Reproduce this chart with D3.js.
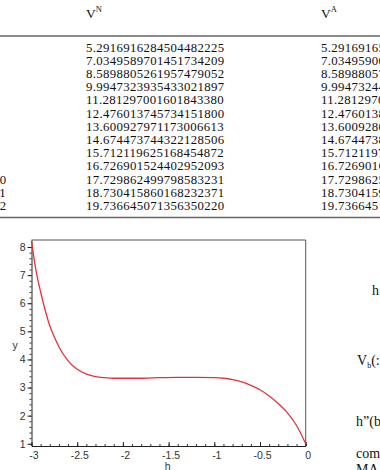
<!DOCTYPE html>
<html>
<head>
<meta charset="utf-8">
<script src="https://cdn.jsdelivr.net/npm/d3@7"></script>
<style>
  body { margin: 0; background: #fff; }
  svg { display: block; }
</style>
</head>
<body>
<svg id="viz"></svg>
<script>
// Global Variables
const width = 380;
const height = 470;
const svg = d3.select("#viz").attr("width", width).attr("height", height);

// Table data
const rowLabels = ["0", "1", "2", "3", "4", "5", "6", "7", "8", "9", "10", "11", "12"];
const vN = [
  "5.2916916284504482225", "7.0349589701451734209", "8.5898805261957479052",
  "9.9947323935433021897", "11.281297001601843380", "12.476013745734151800",
  "13.600927971173006613", "14.674473744322128506", "15.712119625168454872",
  "16.726901524402952093", "17.729862499798583231", "18.730415860168232371",
  "19.736645071356350220"
];
const vA = [
  "5.2916916560", "7.0349590081", "8.5898805723", "9.9947324476",
  "11.281297006", "12.476013812", "13.600928045", "14.674473823",
  "15.712119705", "16.726901612", "17.729862593", "18.730415924",
  "19.736645131"
];

// Curve data
const hValues = [-3.0, -2.95, -2.9, -2.85, -2.8, -2.75, -2.7, -2.6, -2.5, -2.4, -2.3, -2.2, -2.1,
  -2.0, -1.8, -1.6, -1.4, -1.2, -1.0, -0.9, -0.8, -0.7, -0.6, -0.5, -0.4, -0.3, -0.2, -0.1, 0.0];
const yValues = [8.22, 7.15, 6.4, 5.75, 5.2, 4.8, 4.45, 3.95, 3.65, 3.48, 3.39, 3.35, 3.33,
  3.33, 3.33, 3.35, 3.36, 3.36, 3.35, 3.33, 3.28, 3.2, 3.08, 2.92, 2.7, 2.43, 2.1, 1.65, 1.0];
const xTicks = [-3, -2.5, -2, -1.5, -1, -0.5, 0];
const yTicks = [1, 2, 3, 4, 5, 6, 7, 8];

const serif = "'Liberation Serif', 'DejaVu Serif', serif";
const sans = "'Liberation Sans', Arial, sans-serif";

// ---- Table ----
const colX = { label: -7, vN: 86, vA: 321 };
const rowY = d3.scaleLinear().domain([0, 12]).range([51.5, 210]);

const header = svg.append("g").attr("font-family", serif).attr("fill", "#111");
header.append("text").attr("x", colX.label).attr("y", 18).attr("font-size", 13.5).text("n");
[["vN", "N"], ["vA", "A"]].forEach(([k, sup]) => {
  const t = header.append("text").attr("x", colX[k]).attr("y", 18).attr("font-size", 13.5);
  t.append("tspan").text("V");
  t.append("tspan").attr("dy", -6).attr("font-size", 8.5).text(sup);
});

svg.append("line").attr("x1", 0).attr("x2", width).attr("y1", 36).attr("y2", 36)
  .attr("stroke", "#666").attr("stroke-width", 1.6);
svg.append("line").attr("x1", 0).attr("x2", width).attr("y1", 217.5).attr("y2", 217.5)
  .attr("stroke", "#666").attr("stroke-width", 1.6);

const rows = svg.append("g").attr("font-family", serif).attr("font-size", 12.8)
  .attr("letter-spacing", 0.35).attr("fill", "#111");
vN.forEach((v, i) => {
  rows.append("text").attr("x", colX.label).attr("y", rowY(i)).text(rowLabels[i]);
  rows.append("text").attr("x", colX.vN).attr("y", rowY(i)).text(v);
  rows.append("text").attr("x", colX.vA).attr("y", rowY(i)).text(vA[i]);
});

// ---- Plot ----
const x = d3.scaleLinear().domain([-3, 0]).range([31.5, 305.7]);
const y = d3.scaleLinear().domain([0.92, 8.25]).range([446, 240]);

// frame (top and right)
svg.append("path")
  .attr("d", `M${x(-3)},${y(8.25)}H${x(0)}V${y(0.92)}`)
  .attr("fill", "none").attr("stroke", "#555").attr("stroke-width", 1);

// minor ticks
svg.append("g")
  .attr("transform", `translate(0,${y(0.92)})`)
  .call(d3.axisBottom(x).tickValues(d3.range(-30, 1).map(d => d / 10)).tickSize(-2).tickFormat(""))
  .call(g => g.select(".domain").remove())
  .selectAll("line").attr("stroke", "#333");
svg.append("g")
  .attr("transform", `translate(${x(-3)},0)`)
  .call(d3.axisLeft(y).tickValues(d3.range(5, 41).map(d => d / 5)).tickSize(2).tickFormat(""))
  .call(g => g.select(".domain").remove())
  .selectAll("line").attr("stroke", "#333");

// major axes
const xAxis = svg.append("g")
  .attr("transform", `translate(0,${y(0.92)})`)
  .call(d3.axisBottom(x).tickValues(xTicks).tickSize(-4).tickPadding(7).tickSizeOuter(0)
    .tickFormat(d => String(d)));
xAxis.select(".domain").attr("stroke", "#222");
xAxis.selectAll("line").attr("stroke", "#222");
xAxis.selectAll("text").attr("font-family", sans).attr("font-size", 10.5).attr("fill", "#333")
  .attr("dx", 2).attr("dy", "0.55em");

const yAxis = svg.append("g")
  .attr("transform", `translate(${x(-3)},0)`)
  .call(d3.axisLeft(y).tickValues(yTicks).tickSize(4).tickPadding(2).tickSizeOuter(0)
    .tickFormat(d => String(d)));
yAxis.select(".domain").attr("stroke", "#222");
yAxis.selectAll("line").attr("stroke", "#222");
yAxis.selectAll("text").attr("font-family", sans).attr("font-size", 10.5).attr("fill", "#333");

// axis titles
svg.append("text").attr("x", x(-1.5) - 1).attr("y", 470).attr("text-anchor", "middle")
  .attr("font-family", sans).attr("font-size", 10.5).attr("fill", "#333").text("h");
svg.append("text").attr("x", 15).attr("y", 349).attr("text-anchor", "middle")
  .attr("font-family", sans).attr("font-size", 10.5).attr("fill", "#333").text("y");

// curve
const curve = hValues.map((h, i) => [h, yValues[i]]);
svg.append("path")
  .datum(curve)
  .attr("fill", "none")
  .attr("stroke", "#e0343c")
  .attr("stroke-width", 1.3)
  .attr("d", d3.line().x(d => x(d[0])).y(d => y(d[1])).curve(d3.curveMonotoneX));

// ---- Side text (cut off at the right edge) ----
const side = svg.append("g").attr("font-family", serif).attr("font-size", 14).attr("fill", "#111");
side.append("text").attr("x", 372).attr("y", 295).text("h");
const vb = side.append("text").attr("x", 357).attr("y", 365);
vb.append("tspan").text("V");
vb.append("tspan").attr("dy", 3).attr("font-size", 8).text("b");
vb.append("tspan").attr("dy", -3).text("(:)");
side.append("text").attr("x", 356).attr("y", 426).text("h\u201d(b)");
side.append("text").attr("x", 356).attr("y", 458).text("com");
side.append("text").attr("x", 356).attr("y", 474).text("MA");
</script>
</body>
</html>
